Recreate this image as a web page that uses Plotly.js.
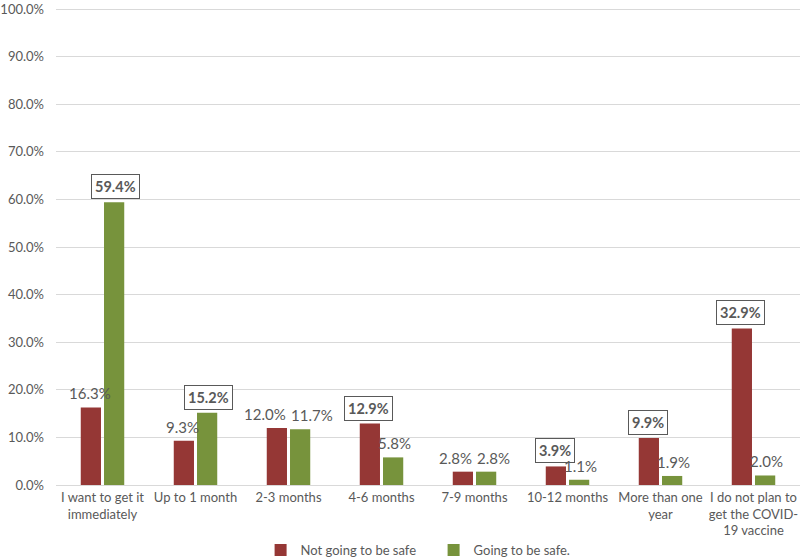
<!DOCTYPE html>
<html>
<head>
<meta charset="utf-8">
<script src="https://cdn.plot.ly/plotly-3.0.1.min.js"></script>
<style>
  html, body { margin: 0; padding: 0; background: #fff; }
  #chart { width: 800px; height: 557px; }
</style>
</head>
<body>
<div id="chart"></div>
<script>
// categories and values
const categories = [
  'I want to get it<br>immediately',
  'Up to 1 month',
  '2-3 months',
  '4-6 months',
  '7-9 months',
  '10-12 months',
  'More than one<br>year',
  'I do not plan to<br>get the COVID-<br>19 vaccine'
];
const notSafe = [0.163, 0.093, 0.120, 0.129, 0.028, 0.039, 0.099, 0.329];
const safe    = [0.594, 0.152, 0.117, 0.058, 0.028, 0.011, 0.019, 0.020];

// y axis ticks
const yTicks = [0, 0.1, 0.2, 0.3, 0.4, 0.5, 0.6, 0.7, 0.8, 0.9, 1.0];

// the larger value of a pair gets a boxed bold label
const boxedNotSafe = [false, false, false, true, false, true, true, true];
const boxedSafe    = [true, true, false, false, false, false, false, false];

const red = '#953735';
const green = '#77933c';
const grey = '#595959';
const font = 'Lato, "Liberation Sans", sans-serif';

function pct(v) { return (v * 100).toFixed(1) + '%'; }

function series(name, vals, color) {
  return {
    type: 'bar',
    name: name,
    x: categories,
    y: vals,
    marker: { color: color },
    hoverinfo: 'none'
  };
}

const traces = [
  series('Not going to be safe', notSafe, red),
  series('Going to be safe.', safe, green)
];

// data labels as annotations so that side-by-side labels can be pushed apart
const BAR_OFF = 13;      // half the distance between the two bar centres (px)
const CHAR_W = 8.4;      // rough label glyph width (px)
const annotations = [];

function label(cat, v, boxed, shift) {
  const a = {
    x: cat, y: v, xref: 'x', yref: 'y',
    xshift: shift, yshift: 3, yanchor: 'bottom',
    showarrow: false
  };
  if (boxed) {
    Object.assign(a, {
      text: '<b>' + pct(v) + '</b>',
      font: { family: font, size: 14.5, color: grey },
      bordercolor: grey, borderwidth: 1, borderpad: 3,
      bgcolor: '#fff'
    });
  } else {
    Object.assign(a, {
      text: pct(v),
      font: { family: font, size: 15, color: grey }
    });
  }
  return a;
}

categories.forEach((cat, i) => {
  const a = notSafe[i], b = safe[i];
  let off = BAR_OFF;
  // two plain labels at about the same height would collide
  if (!boxedNotSafe[i] && !boxedSafe[i] && Math.abs(a - b) < 0.02) {
    const sep = (pct(a).length + pct(b).length) * CHAR_W / 2 + 5;
    off = Math.max(BAR_OFF, sep / 2);
  }
  annotations.push(label(cat, a, boxedNotSafe[i], -off));
  annotations.push(label(cat, b, boxedSafe[i], off));
});

const layout = {
  width: 800, height: 557,
  margin: { l: 56, r: 0, t: 2, b: 72 },
  paper_bgcolor: '#fff',
  plot_bgcolor: '#fff',
  barmode: 'group',
  bargap: 0.5,
  bargroupgap: 0.13,
  font: { family: font, size: 13, color: grey },
  xaxis: {
    type: 'category', automargin: false,
    showline: true, linecolor: '#d9d9d9', linewidth: 1,
    ticks: '', showgrid: false,
    tickfont: { family: font, size: 13, color: grey }
  },
  yaxis: {
    range: [0, 1.0147], tickmode: 'array',
    tickvals: yTicks, ticktext: yTicks.map(pct),
    automargin: false,
    gridcolor: '#d9d9d9', gridwidth: 1,
    zeroline: false, showline: false,
    ticklabelstandoff: 11,
    ticklabeloverflow: 'allow',
    tickfont: { family: font, size: 13, color: grey }
  },
  showlegend: true,
  legend: {
    orientation: 'h', xanchor: 'left', x: 0.275,
    yref: 'container', y: 0.0126, yanchor: 'middle',
    font: { family: font, size: 13, color: grey },
    itemwidth: 30,
    entrywidth: 128
  },
  annotations: annotations
};

Plotly.newPlot('chart', traces, layout, { displayModeBar: false, staticPlot: true });
</script>
</body>
</html>
